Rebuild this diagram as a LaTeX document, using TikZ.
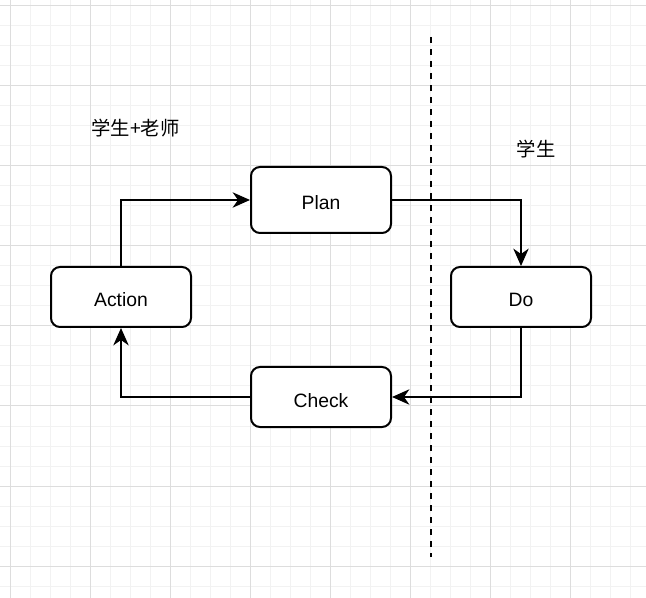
\documentclass[tikz,border=0pt]{standalone}
\usepackage{fontspec}
\setmainfont{Liberation Sans}
\newfontfamily\cjkfont{Noto Sans CJK SC}
\usetikzlibrary{arrows.meta}
\definecolor{gridminor}{HTML}{F2F2F2}
\definecolor{gridmajor}{HTML}{DDDDDD}
\tikzset{
  box/.style={draw=black, line width=1.5pt, rounded corners=6.75pt, fill=white,
    minimum width=105pt, minimum height=45pt, inner sep=0pt,
    text height=15pt, text depth=0pt,
    font=\fontsize{14.5pt}{17pt}\selectfont},
  arr/.style={draw=black, line width=1.5pt,
    -{Stealth[length=13pt, width=11.5pt, inset=4pt]}},
  divider/.style={draw=black, line width=1.5pt, dash pattern=on 4.5pt off 4.5pt},
  lbl/.style={inner sep=0pt, font=\fontsize{14.5pt}{17pt}\selectfont\cjkfont}
}
\begin{document}
\begin{tikzpicture}[x=0.75pt, y=-0.75pt]
\useasboundingbox (0,0) rectangle (646,598);
\fill[white] (0,0) rectangle (646,598);
% minor grid
\foreach \gx in {10,30,...,646} \draw[gridminor, line width=0.75pt] (\gx,0) -- (\gx,598);
\foreach \gy in {6,26,...,598} \draw[gridminor, line width=0.75pt] (0,\gy) -- (646,\gy);
% major grid
\foreach \gx in {10,90,...,646} \draw[gridmajor, line width=0.75pt] (\gx,0) -- (\gx,598);
\foreach \gy in {6,86,...,598} \draw[gridmajor, line width=0.75pt] (0,\gy) -- (646,\gy);

% divider
\coordinate (dtop) at (431,37);
\coordinate (dbot) at (431,557);
\draw[divider] (dtop) -- (dbot);

% labels
\node[lbl] (both) at (135.5,128) {学生+老师};
\node[lbl] (stud) at (536,149) {学生};

% boxes
\node[box, minimum height=49.5pt] (plan) at (321,200) {Plan};
\node[box] (action) at (121,297) {Action};
\node[box] (do) at (521,297) {Do};
\node[box] (check) at (321,397) {Check};

% connectors
\draw[arr] (action.north) |- (plan.west);
\draw[arr] (plan.east) -| (do.north);
\draw[arr] (do.south) |- (check.east);
\draw[arr] (check.west) -| (action.south);
\end{tikzpicture}
\end{document}
